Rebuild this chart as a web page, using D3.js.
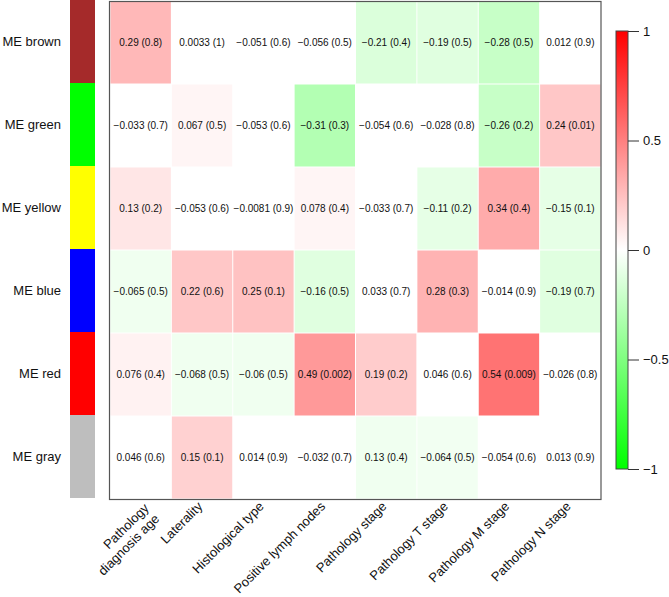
<!DOCTYPE html>
<html><head><meta charset="utf-8">
<script src="https://cdn.jsdelivr.net/npm/d3@7"></script>
<style>body{margin:0;background:#fff}svg{display:block;font-family:"Liberation Sans",Arial,sans-serif}</style>
</head><body><svg id="c" width="669" height="597"></svg>
<script>
const modules = ["ME brown","ME green","ME yellow","ME blue","ME red","ME gray"];
const moduleColors = ["#A52A2A","#00FF00","#FFFF00","#0000FF","#FF0000","#BEBEBE"];
const traits = [["Pathology","diagnosis age"],["Laterality"],["Histological type"],["Positive lymph nodes"],["Pathology stage"],["Pathology T stage"],["Pathology M stage"],["Pathology N stage"]];
const corLabels = [
 ["0.29","0.0033","-0.051","-0.056","-0.21","-0.19","-0.28","0.012"],
 ["-0.033","0.067","-0.053","-0.31","-0.054","-0.028","-0.26","0.24"],
 ["0.13","-0.053","-0.0081","0.078","-0.033","-0.11","0.34","-0.15"],
 ["-0.065","0.22","0.25","-0.16","0.033","0.28","-0.014","-0.19"],
 ["0.076","-0.068","-0.06","0.49","0.19","0.046","0.54","-0.026"],
 ["0.046","0.15","0.014","-0.032","0.13","-0.064","-0.054","0.013"]];
const pLabels = [
 ["0.8","1","0.6","0.5","0.4","0.5","0.5","0.9"],
 ["0.7","0.5","0.6","0.3","0.6","0.8","0.2","0.01"],
 ["0.2","0.6","0.9","0.4","0.7","0.2","0.4","0.1"],
 ["0.5","0.6","0.1","0.5","0.7","0.3","0.9","0.7"],
 ["0.4","0.5","0.5","0.002","0.2","0.6","0.009","0.8"],
 ["0.6","0.1","0.9","0.7","0.4","0.5","0.6","0.9"]];
// fill intensities
const fillValues = [
 [0.28,0,0,0,-0.14,-0.12,-0.22,0],
 [0,0.04,0,-0.3,0,0,-0.22,0.22],
 [0.1,0,0,0.04,0,-0.1,0.33,-0.1],
 [-0.06,0.22,0.24,-0.12,0,0.3,0,-0.12],
 [0.05,-0.06,-0.06,0.4,0.2,0,0.55,0],
 [0,0.18,0,0,-0.06,-0.05,0,0]];
const legendTicks = [-1,-0.5,0,0.5,1];

const svg = d3.select("#c");
const fmt = s => s.replace("-", "\u2212");
const x = d3.scaleBand().domain(d3.range(traits.length)).range([110,601]);
const y = d3.scaleBand().domain(d3.range(modules.length)).range([1,499]);
const color = d3.scaleLinear().domain([-1,0,1]).range(["#00FF00","#FFFFFF","#FF0000"]);

// cells
const cells = [];
modules.forEach((m,i)=>traits.forEach((t,j)=>cells.push({i,j})));
svg.append("g").selectAll("rect").data(cells).join("rect")
  .attr("x",d=>x(d.j)+0.5).attr("y",d=>y(d.i)+0.5)
  .attr("width",x.bandwidth()-1).attr("height",y.bandwidth()-1)
  .attr("fill",d=>color(fillValues[d.i][d.j]));
svg.append("g").selectAll("text").data(cells).join("text")
  .attr("x",d=>x(d.j)+x.bandwidth()/2).attr("y",d=>y(d.i)+y.bandwidth()/2)
  .attr("dy","0.35em").attr("text-anchor","middle").attr("font-size",10).attr("fill","#111")
  .text(d=>fmt(corLabels[d.i][d.j])+" ("+pLabels[d.i][d.j]+")");

// frame
svg.append("rect").attr("x",109.5).attr("y",1.5).attr("width",601-109.5).attr("height",498)
  .attr("fill","none").attr("stroke","#555").attr("stroke-width",1.2);

// module colour strips
svg.append("g").selectAll("rect").data(modules).join("rect")
  .attr("x",70).attr("width",25).attr("y",(d,i)=>y(i)-1).attr("height",y.bandwidth())
  .attr("fill",(d,i)=>moduleColors[i]);
svg.append("g").selectAll("text").data(modules).join("text")
  .attr("x",61).attr("y",(d,i)=>y(i)+y.bandwidth()/2-1).attr("dy","0.35em")
  .attr("text-anchor","end").attr("font-size",13).attr("fill","#111").text(d=>d);

// x labels
const xl = svg.append("g").selectAll("g").data(traits).join("g")
  .attr("transform",(d,j)=>`translate(${x(j)+x.bandwidth()/2-2+(d.length-1)*13},${504+(d.length-1)*7}) rotate(-45)`);
xl.each(function(d){
  const g = d3.select(this);
  const n = d.length;
  d.forEach((line,k)=>{
    g.append("text").attr("x",0).attr("y",(k-(n-1)/2)*15).attr("dy","0.35em")
      .attr("text-anchor","end").attr("font-size",13).attr("fill","#111").text(line);
  });
});

// colour legend
const yC = d3.scaleLinear().domain([-1,1]).range([469,31]);
const defs = svg.append("defs");
const grad = defs.append("linearGradient").attr("id","g").attr("x1",0).attr("x2",0).attr("y1",1).attr("y2",0);
legendTicks.forEach(v=>grad.append("stop").attr("offset",(v+1)/2).attr("stop-color",color(v)));
svg.append("rect").attr("x",616).attr("y",31).attr("width",12).attr("height",438)
  .attr("fill","url(#g)").attr("stroke","#444").attr("stroke-width",1);
const ax = svg.append("g").attr("transform","translate(628,0)")
  .call(d3.axisRight(yC).tickValues(legendTicks).tickSize(11).tickPadding(4)
        .tickFormat(v=>fmt(d3.format("")(v))));
ax.select(".domain").remove();
ax.selectAll("line").attr("stroke","#333");
ax.selectAll("text").attr("font-size",13).attr("fill","#111").attr("font-family","Liberation Sans, Arial, sans-serif");
</script></body></html>
